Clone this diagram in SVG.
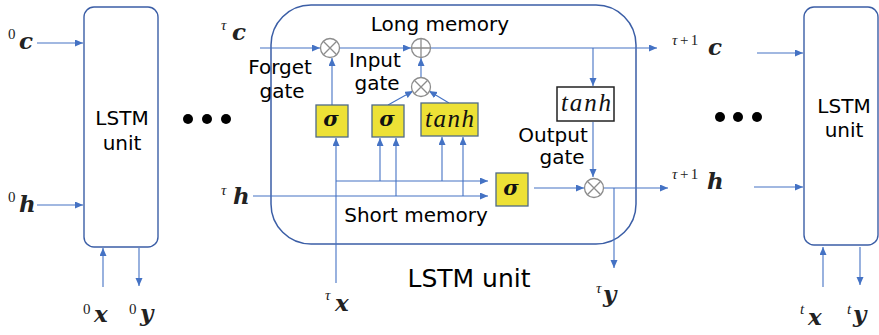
<svg xmlns="http://www.w3.org/2000/svg" width="879" height="335" viewBox="0 0 879 335">
  <style>
    .unit { fill: #ffffff; stroke: #3b5ea6; stroke-width: 1.4; }
    .cell { fill: none; stroke: #3b5ea6; stroke-width: 1.5; }
    .gate { fill: #ede136; stroke: #4f6a88; stroke-width: 1.3; }
    .act { fill: #ffffff; stroke: #222222; stroke-width: 1.5; }
    .op { fill: #ffffff; stroke: #8c8c8c; stroke-width: 1.3; }
    .wire { fill: none; stroke: #4472c4; stroke-width: 1.1; }
    .arr { marker-end: url(#head); }
    .lbl { font-family: "DejaVu Sans", Verdana, sans-serif; font-size: 20px; fill: #000000; }
    .big { font-family: "DejaVu Sans", Verdana, sans-serif; font-size: 25px; fill: #000000; }
    .sup { font-family: "Liberation Serif", "Times New Roman", serif; font-size: 15px; fill: #222222; }
    .tau { font-style: italic; }
    .var { font-family: "DejaVu Serif", serif; font-weight: bold; font-style: italic; font-size: 23px; fill: #222222; }
    .sig { font-family: "DejaVu Serif", serif; font-weight: bold; font-style: italic; font-size: 21px; fill: #111111; text-anchor: middle; }
    .fn { font-family: "Liberation Serif", "Times New Roman", serif; font-style: italic; font-size: 25px; fill: #111111; }
    .dot { fill: #000000; }
  </style>
  <defs>
    <marker id="head" markerUnits="userSpaceOnUse" markerWidth="9" markerHeight="8" refX="8" refY="3.5" orient="auto">
      <path d="M0,0 L8,3.5 L0,7 Z" fill="#4472c4"/>
    </marker>
  </defs>

  <!-- first unrolled unit -->
  <g id="unit-0">
    <rect class="unit" x="84" y="7" width="74" height="240" rx="10"/>
    <text class="lbl" x="122" y="125" text-anchor="middle" font-size="21">LSTM</text>
    <text class="lbl" x="122" y="150" text-anchor="middle" font-size="21">unit</text>
  </g>

  <!-- last unrolled unit -->
  <g id="unit-t">
    <rect class="unit" x="804" y="7" width="74" height="238" rx="10"/>
    <text class="lbl" x="844" y="113" text-anchor="middle" font-size="21">LSTM</text>
    <text class="lbl" x="844" y="137" text-anchor="middle" font-size="21">unit</text>
  </g>

  <!-- ellipses between units -->
  <g id="dots-left">
    <circle class="dot" cx="188" cy="119" r="5"/>
    <circle class="dot" cx="207" cy="119" r="5"/>
    <circle class="dot" cx="226" cy="119" r="5"/>
  </g>
  <g id="dots-right">
    <circle class="dot" cx="720" cy="117" r="5"/>
    <circle class="dot" cx="738" cy="117" r="5"/>
    <circle class="dot" cx="757" cy="117" r="5"/>
  </g>

  <!-- expanded unit at step tau -->
  <g id="unit-tau">
    <rect class="cell" x="271" y="5" width="365" height="239" rx="40"/>
    <text class="big" x="469" y="287" text-anchor="middle">LSTM unit</text>
  </g>

  <!-- connectors -->
  <g id="connectors">
    <line class="wire arr" x1="37" y1="43" x2="83" y2="43"/>
    <line class="wire arr" x1="37" y1="205" x2="83" y2="205"/>
    <line class="wire arr" x1="103" y1="287" x2="103" y2="248"/>
    <line class="wire arr" x1="139" y1="248" x2="139" y2="286"/>

    <!-- cell state path -->
    <line class="wire arr" x1="260" y1="48" x2="320" y2="48"/>
    <line class="wire arr" x1="340" y1="48" x2="411" y2="48"/>
    <line class="wire arr" x1="431" y1="48" x2="657" y2="48"/>
    <line class="wire arr" x1="593" y1="48" x2="593" y2="86"/>
    <line class="wire arr" x1="593" y1="122" x2="593" y2="177"/>

    <!-- gate outputs -->
    <line class="wire arr" x1="332" y1="105" x2="332" y2="58"/>
    <line class="wire arr" x1="421" y1="77" x2="421" y2="58"/>
    <line class="wire arr" x1="388" y1="105" x2="413" y2="91"/>
    <line class="wire arr" x1="449" y1="103" x2="429" y2="91"/>

    <!-- input x and hidden h distribution -->
    <line class="wire arr" x1="336" y1="283" x2="336" y2="138"/>
    <line class="wire arr" x1="336" y1="181" x2="488" y2="181"/>
    <line class="wire arr" x1="253" y1="196" x2="488" y2="196"/>
    <line class="wire arr" x1="380" y1="181" x2="380" y2="138"/>
    <line class="wire arr" x1="396" y1="196" x2="396" y2="138"/>
    <line class="wire arr" x1="442" y1="181" x2="442" y2="137"/>
    <line class="wire arr" x1="463" y1="196" x2="463" y2="137"/>

    <!-- output gate -->
    <line class="wire arr" x1="534" y1="188" x2="584" y2="188"/>
    <line class="wire arr" x1="604" y1="188" x2="668" y2="188"/>
    <line class="wire arr" x1="614" y1="188" x2="614" y2="268"/>

    <!-- into last unit -->
    <line class="wire arr" x1="757" y1="53" x2="803" y2="53"/>
    <line class="wire arr" x1="754" y1="187" x2="803" y2="187"/>
    <line class="wire arr" x1="823" y1="287" x2="823" y2="247"/>
    <line class="wire arr" x1="860" y1="247" x2="860" y2="285"/>
  </g>

  <!-- pointwise operators -->
  <g id="mul-forget">
    <circle class="op" cx="330" cy="48" r="9.5"/>
    <path class="op" d="M323.3,41.3 L336.7,54.7 M336.7,41.3 L323.3,54.7"/>
  </g>
  <g id="add-cell">
    <circle class="op" cx="421" cy="48" r="9.5"/>
    <path class="op" d="M411.5,48 L430.5,48 M421,38.5 L421,57.5"/>
  </g>
  <g id="mul-input">
    <circle class="op" cx="421" cy="87" r="9.5"/>
    <path class="op" d="M414.3,80.3 L427.7,93.7 M427.7,80.3 L414.3,93.7"/>
  </g>
  <g id="mul-output">
    <circle class="op" cx="594" cy="188" r="9.5"/>
    <path class="op" d="M587.3,181.3 L600.7,194.7 M600.7,181.3 L587.3,194.7"/>
  </g>

  <!-- gate layers -->
  <g id="forget-sigma">
    <rect class="gate" x="316" y="105" width="32" height="32"/>
    <text class="sig" x="331" y="126">σ</text>
  </g>
  <g id="input-sigma">
    <rect class="gate" x="372" y="105" width="32" height="32"/>
    <text class="sig" x="387" y="126">σ</text>
  </g>
  <g id="input-tanh">
    <rect class="gate" x="421" y="103" width="57" height="33"/>
    <text class="fn" x="425" y="127" textLength="49" lengthAdjust="spacing">tanh</text>
  </g>
  <g id="output-sigma">
    <rect class="gate" x="496" y="173" width="32" height="33"/>
    <text class="sig" x="511" y="195">σ</text>
  </g>
  <g id="cell-tanh">
    <rect class="act" x="557" y="87" width="57" height="34"/>
    <text class="fn" x="561" y="111" textLength="50" lengthAdjust="spacing">tanh</text>
  </g>

  <!-- gate captions -->
  <g id="captions">
    <text class="lbl" x="440" y="31" text-anchor="middle">Long memory</text>
    <text class="lbl" x="280" y="74" text-anchor="middle">Forget</text>
    <text class="lbl" x="282" y="98" text-anchor="middle">gate</text>
    <text class="lbl" x="375" y="67" text-anchor="middle">Input</text>
    <text class="lbl" x="377" y="90" text-anchor="middle">gate</text>
    <text class="lbl" x="553" y="142" text-anchor="middle">Output</text>
    <text class="lbl" x="562" y="164" text-anchor="middle">gate</text>
    <text class="lbl" x="416" y="222" text-anchor="middle">Short memory</text>
  </g>

  <!-- sequence variables -->
  <g id="variables">
    <text><tspan class="sup" x="8" y="39">0</tspan><tspan class="var" x="19" y="49">c</tspan></text>
    <text><tspan class="sup" x="8" y="202">0</tspan><tspan class="var" x="19" y="212">h</tspan></text>
    <text><tspan class="sup" x="83" y="314">0</tspan><tspan class="var" x="94" y="322">x</tspan></text>
    <text><tspan class="sup" x="129" y="314">0</tspan><tspan class="var" x="140" y="321">y</tspan></text>

    <text><tspan class="sup tau" x="221" y="30">τ</tspan><tspan class="var" x="232" y="40">c</tspan></text>
    <text><tspan class="sup tau" x="221" y="195">τ</tspan><tspan class="var" x="233" y="204">h</tspan></text>
    <text><tspan class="sup tau" x="325" y="300">τ</tspan><tspan class="var" x="335" y="311">x</tspan></text>
    <text><tspan class="sup tau" x="596" y="293">τ</tspan><tspan class="var" x="603" y="302">y</tspan></text>

    <text><tspan class="sup" x="672" y="45" letter-spacing="2.5"><tspan class="tau">τ</tspan>+1</tspan><tspan class="var" x="708" y="55">c</tspan></text>
    <text><tspan class="sup" x="672" y="179" letter-spacing="2.5"><tspan class="tau">τ</tspan>+1</tspan><tspan class="var" x="707" y="189">h</tspan></text>

    <text><tspan class="sup tau" x="800" y="314">t</tspan><tspan class="var" x="808" y="325">x</tspan></text>
    <text><tspan class="sup tau" x="847" y="314">t</tspan><tspan class="var" x="853" y="322">y</tspan></text>
  </g>
</svg>
